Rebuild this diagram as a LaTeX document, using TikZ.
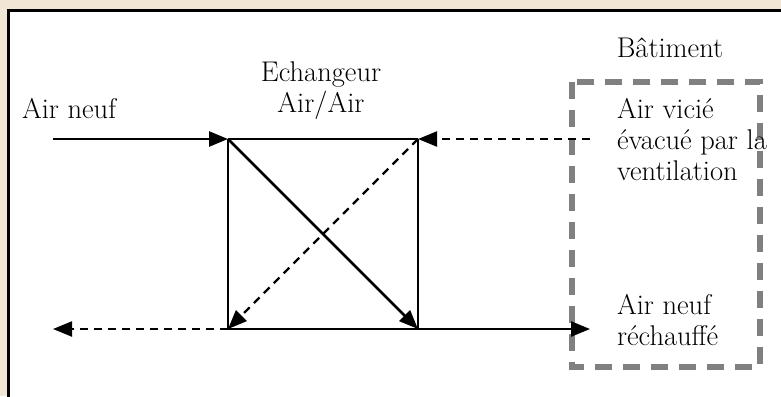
\documentclass[tikz,border=0pt]{standalone}
\usepackage{fontspec}
\usetikzlibrary{arrows.meta}
\definecolor{beige}{RGB}{241,230,214}
\definecolor{boxgray}{RGB}{128,128,128}
\tikzset{
  lbl/.style={inner sep=0pt, outer sep=0pt, font=\fontsize{28.5}{31}\selectfont, align=left},
  flow/.style={line width=2.6pt, -{Triangle[length=19pt,width=15pt]}},
  retflow/.style={line width=2.2pt, dash pattern=on 8pt off 6pt, -{Triangle[length=19pt,width=15pt]}},
  edge/.style={line width=2.6pt},
  building/.style={draw=boxgray, line width=5.5pt, dash pattern=on 17pt off 11pt},
}
\begin{document}
\begin{tikzpicture}[x=1pt,y=-1pt]
\useasboundingbox (0,0) rectangle (781,396);
\clip (0,0) rectangle (781,396);
\fill[beige] (0,0) rectangle (781,396);
\draw[fill=white, line width=3pt] (8.5,11) rectangle (800,420);

% exchanger square corners
\coordinate (tl) at (228,139);
\coordinate (tr) at (418,139);
\coordinate (bl) at (228,329);
\coordinate (br) at (418,329);
\coordinate (inA) at (53,139);
\coordinate (outV) at (590,139);
\coordinate (exV) at (53,329);
\coordinate (outN) at (590,329);

% building dashed box
\draw[building] (572,82) rectangle (760,367);

% square
\draw[edge] (tl) -- (tr);
\draw[edge] (tl) -- (bl);
\draw[edge] (tr) -- (br);
\draw[edge] (bl) -- (br);

% flows
\draw[flow] (inA) -- (tl);
\draw[flow] (tl) -- (br);
\draw[flow] (br) -- (outN);
\draw[retflow] (outV) -- (tr);
\draw[retflow] (tr) -- (bl);
\draw[retflow] (bl) -- (exV);

% labels (base anchor = baseline of last line)
\node[lbl, anchor=base west] (airneuf) at (22,118) {Air neuf};
\node[lbl, anchor=base, align=center] (ech) at (321,112) {Echangeur\\Air/Air};
\node[lbl, anchor=base] (bat) at (670,58) {Bâtiment};
\node[lbl, anchor=base west] (vicie) at (617,180) {Air vicié\\évacué par la\\ventilation};
\node[lbl, anchor=base west] (rech) at (617,345) {Air neuf\\réchauffé};
\end{tikzpicture}
\end{document}
